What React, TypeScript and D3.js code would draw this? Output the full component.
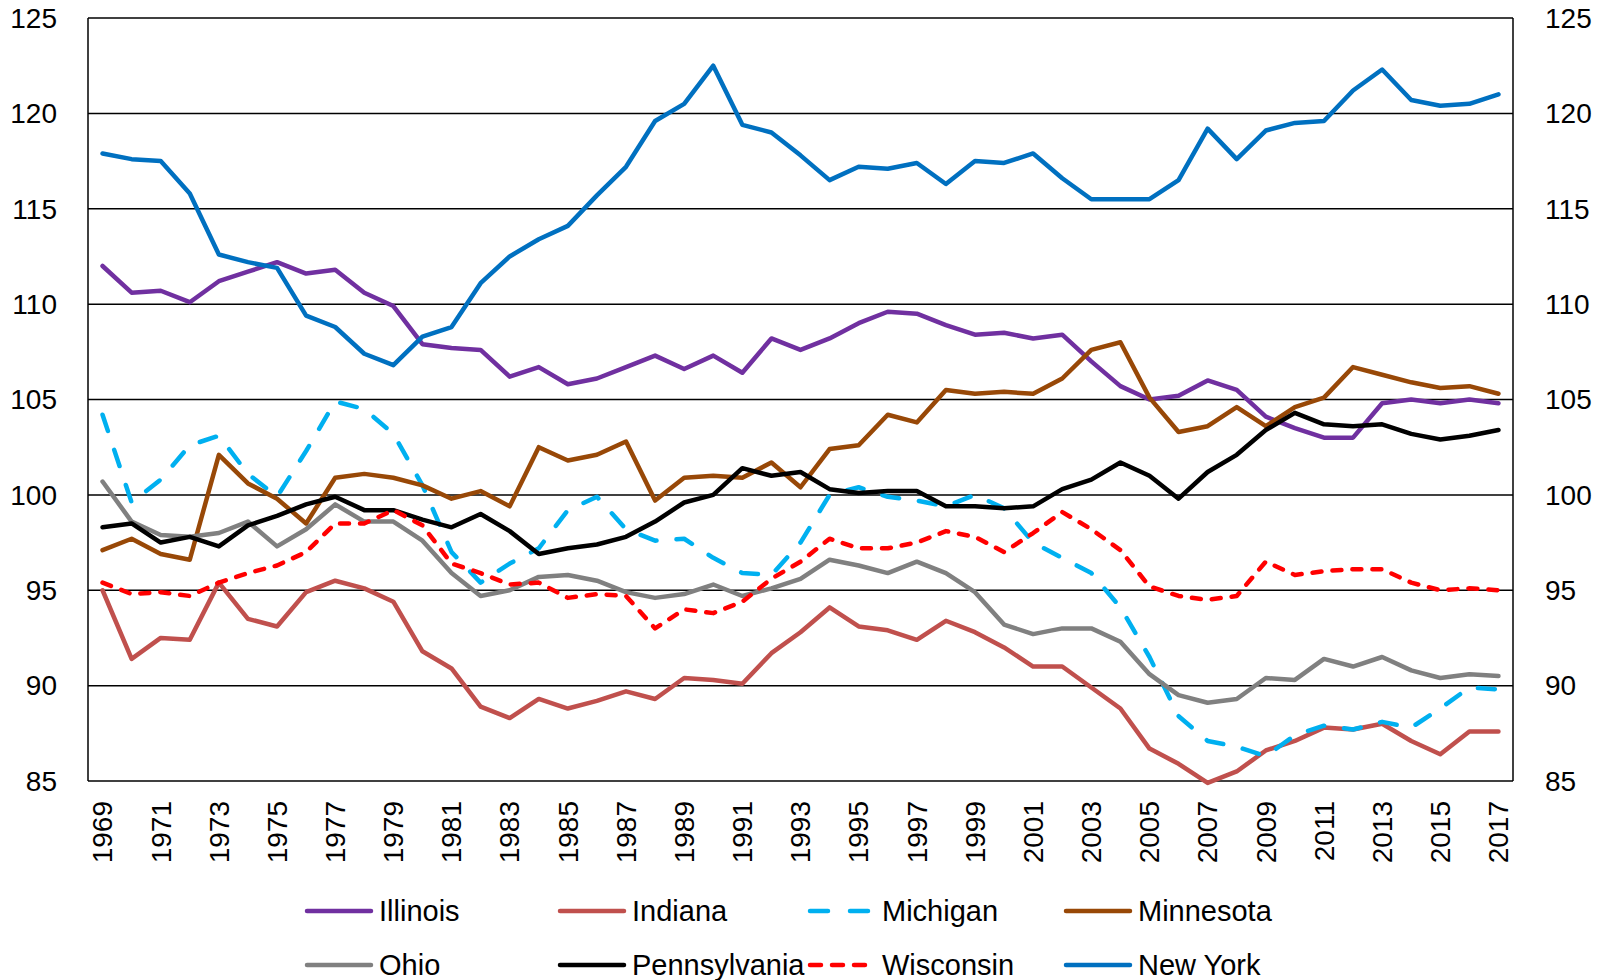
import React from "react";
import * as d3 from "d3";

const years: number[] = d3.range(1969, 2018);
const yTicks: number[] = [85, 90, 95, 100, 105, 110, 115, 120, 125];

const illinois = [112.0,110.6,110.7,110.1,111.2,111.7,112.2,111.6,111.8,110.6,109.9,107.9,107.7,107.6,106.2,106.7,105.8,106.1,106.7,107.3,106.6,107.3,106.4,108.2,107.6,108.2,109.0,109.6,109.5,108.9,108.4,108.5,108.2,108.4,107.0,105.7,105.0,105.2,106.0,105.5,104.1,103.5,103.0,103.0,104.8,105.0,104.8,105.0,104.8];
const indiana = [95.0,91.4,92.5,92.4,95.4,93.5,93.1,94.9,95.5,95.1,94.4,91.8,90.9,88.9,88.3,89.3,88.8,89.2,89.7,89.3,90.4,90.3,90.1,91.7,92.8,94.1,93.1,92.9,92.4,93.4,92.8,92.0,91.0,91.0,89.9,88.8,86.7,85.9,84.9,85.5,86.6,87.1,87.8,87.7,88.0,87.1,86.4,87.6,87.6];
const michigan = [104.2,99.6,100.8,102.6,103.1,101.1,99.9,102.3,104.9,104.5,103.2,100.5,97.0,95.4,96.4,97.2,99.2,99.9,98.2,97.6,97.7,96.7,95.9,95.8,97.5,100.0,100.4,99.9,99.7,99.4,100.0,99.3,97.5,96.7,95.9,94.1,91.5,88.4,87.1,86.8,86.3,87.4,87.9,87.7,88.1,87.8,88.8,89.9,89.8];
const minnesota = [97.1,97.7,96.9,96.6,102.1,100.6,99.8,98.5,100.9,101.1,100.9,100.5,99.8,100.2,99.4,102.5,101.8,102.1,102.8,99.7,100.9,101.0,100.9,101.7,100.4,102.4,102.6,104.2,103.8,105.5,105.3,105.4,105.3,106.1,107.6,108.0,105.1,103.3,103.6,104.6,103.6,104.6,105.1,106.7,106.3,105.9,105.6,105.7,105.3];
const ohio = [100.7,98.6,97.9,97.8,98.0,98.6,97.3,98.2,99.5,98.6,98.6,97.6,95.9,94.7,95.0,95.7,95.8,95.5,94.9,94.6,94.8,95.3,94.7,95.1,95.6,96.6,96.3,95.9,96.5,95.9,94.9,93.2,92.7,93.0,93.0,92.3,90.6,89.5,89.1,89.3,90.4,90.3,91.4,91.0,91.5,90.8,90.4,90.6,90.5];
const pennsylvania = [98.3,98.5,97.5,97.8,97.3,98.4,98.9,99.5,99.9,99.2,99.2,98.7,98.3,99.0,98.1,96.9,97.2,97.4,97.8,98.6,99.6,100.0,101.4,101.0,101.2,100.3,100.1,100.2,100.2,99.4,99.4,99.3,99.4,100.3,100.8,101.7,101.0,99.8,101.2,102.1,103.4,104.3,103.7,103.6,103.7,103.2,102.9,103.1,103.4];
const wisconsin = [95.4,94.8,94.9,94.7,95.4,95.9,96.3,97.0,98.5,98.5,99.2,98.4,96.4,95.9,95.3,95.4,94.6,94.8,94.7,93.0,94.0,93.8,94.4,95.6,96.5,97.7,97.2,97.2,97.5,98.1,97.8,97.0,98.0,99.1,98.2,97.1,95.2,94.7,94.5,94.7,96.5,95.8,96.0,96.1,96.1,95.4,95.0,95.1,95.0];
const newYork = [117.9,117.6,117.5,115.8,112.6,112.2,111.9,109.4,108.8,107.4,106.8,108.3,108.8,111.1,112.5,113.4,114.1,115.7,117.2,119.6,120.5,122.5,119.4,119.0,117.8,116.5,117.2,117.1,117.4,116.3,117.5,117.4,117.9,116.6,115.5,115.5,115.5,116.5,119.2,117.6,119.1,119.5,119.6,121.2,122.3,120.7,120.4,120.5,121.0];

type Series = { name: string; values: number[]; color: string; dash?: string };

const series: Series[] = [
  { name: "Illinois", values: illinois, color: "#7030A0" },
  { name: "Indiana", values: indiana, color: "#C0504D" },
  { name: "Michigan", values: michigan, color: "#00B0F0", dash: "17,20" },
  { name: "Minnesota", values: minnesota, color: "#984807" },
  { name: "Ohio", values: ohio, color: "#808080" },
  { name: "Pennsylvania", values: pennsylvania, color: "#000000" },
  { name: "Wisconsin", values: wisconsin, color: "#FF0000", dash: "9,11" },
  { name: "New York", values: newYork, color: "#0070C0" },
];

const W = 1604;
const H = 980;
const L = 88;
const R = 1513;
const T = 18;
const B = 781;
const FONT = "'Liberation Sans', Arial, sans-serif";

export default function App() {
  const x = d3.scalePoint<number>().domain(years).range([L, R]).padding(0.5);
  const y = d3.scaleLinear().domain([85, 125]).range([B, T]);
  const line = d3
    .line<number>()
    .x((_, i) => x(years[i]) as number)
    .y((d) => y(d));

  const legendCols = [305, 558, 808, 1064];
  const legendRows = [911, 965];

  return (
    <svg
      width={W}
      height={H}
      style={{ position: "absolute", left: 0, top: 0, background: "#fff" }}
      fontFamily={FONT}
    >
      <rect x={0} y={0} width={W} height={H} fill="#fff" />
      {yTicks.map((t) => (
        <line key={"g" + t} x1={L} x2={R} y1={y(t)} y2={y(t)} stroke="#000" strokeWidth={1.5} />
      ))}
      <line x1={L} x2={L} y1={T} y2={B} stroke="#000" strokeWidth={1.5} />
      <line x1={R} x2={R} y1={T} y2={B} stroke="#000" strokeWidth={1.5} />
      {yTicks.map((t) => (
        <g key={"yl" + t}>
          <text x={57} y={y(t)} dy="0.35em" textAnchor="end" fontSize={28} fill="#000">
            {t}
          </text>
          <text x={1545} y={y(t)} dy="0.35em" textAnchor="start" fontSize={28} fill="#000">
            {t}
          </text>
        </g>
      ))}
      {years
        .filter((yr) => (yr - 1969) % 2 === 0)
        .map((yr) => (
          <text
            key={"x" + yr}
            transform={`translate(${x(yr)},${801}) rotate(-90)`}
            dy="0.35em"
            textAnchor="end"
            fontSize={28}
            fill="#000"
          >
            {yr}
          </text>
        ))}
      {series.map((s) => (
        <path
          key={s.name}
          d={line(s.values) || ""}
          fill="none"
          stroke={s.color}
          strokeWidth={4.5}
          strokeLinejoin="round"
          strokeLinecap="round"
          strokeDasharray={s.dash}
        />
      ))}
      {series.map((s, i) => {
        const cx = legendCols[i % 4];
        const cy = legendRows[Math.floor(i / 4)];
        return (
          <g key={"lg" + s.name}>
            <line
              x1={cx + 2}
              x2={cx + 66}
              y1={cy}
              y2={cy}
              stroke={s.color}
              strokeWidth={4.5}
              strokeLinecap="round"
              strokeDasharray={s.name === "Michigan" ? "18,22" : s.name === "Wisconsin" ? "11,11" : undefined}
            />
            <text x={cx + 74} y={cy} dy="0.35em" fontSize={29} fill="#000">
              {s.name}
            </text>
          </g>
        );
      })}
    </svg>
  );
}
